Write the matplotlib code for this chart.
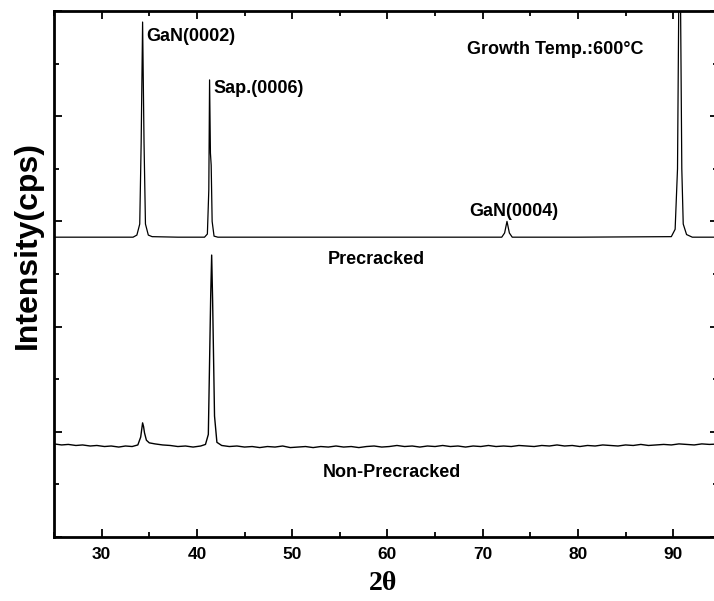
import matplotlib
matplotlib.use("Agg")
import matplotlib.pyplot as plt
from matplotlib.ticker import MultipleLocator, NullFormatter

# ---- data ----
two_theta_pre = [25.0, 28.0, 31.0, 33.3, 33.7, 34.0, 34.15, 34.3, 34.45, 34.6, 34.9, 35.3,
                 38.0, 40.8, 41.1, 41.25, 41.33, 41.42, 41.5, 41.6, 41.8, 42.2,
                 50.0, 60.0, 68.0, 72.0, 72.3, 72.55, 72.8, 73.1,
                 80.0, 89.8, 90.2, 90.45, 90.6, 90.75, 90.9, 91.05, 91.4, 92.0, 95.0]
intensity_pre = [5.70, 5.70, 5.70, 5.70, 5.74, 5.95, 7.5, 9.79, 7.5, 5.95, 5.74, 5.71,
                 5.70, 5.70, 5.76, 6.6, 8.69, 7.3, 7.07, 6.0, 5.72, 5.70,
                 5.70, 5.70, 5.70, 5.70, 5.78, 6.00, 5.78, 5.70,
                 5.70, 5.71, 5.85, 7.0, 10.6, 10.6, 7.0, 5.95, 5.75, 5.70, 5.70]

two_theta_non = [25.0, 25.8, 26.5, 27.3, 28.0, 28.8, 29.5, 30.3, 31.0, 31.8, 32.5, 33.2,
                 33.8, 34.1, 34.3, 34.4, 34.5, 34.7, 35.0, 35.6, 36.4, 37.2, 38.0,
                 38.8, 39.6, 40.4, 40.9, 41.2, 41.45, 41.55, 41.65, 41.85, 42.1, 42.6,
                 43.4, 44.2, 45.0, 45.8, 46.6, 47.4, 48.2, 49.0, 49.8, 50.6, 51.4,
                 52.2, 53.0, 53.8, 54.6, 55.4, 56.2, 57.0, 57.8, 58.6, 59.4, 60.2,
                 61.0, 61.8, 62.6, 63.4, 64.2, 65.0, 65.8, 66.6, 67.4, 68.2, 69.0,
                 69.8, 70.6, 71.4, 72.2, 73.0, 73.8, 74.6, 75.4, 76.2, 77.0, 77.8,
                 78.6, 79.4, 80.2, 81.0, 81.8, 82.6, 83.4, 84.2, 85.0, 85.8, 86.6,
                 87.4, 88.2, 89.0, 89.8, 90.6, 91.4, 92.2, 93.0, 93.8, 95.0]
intensity_non = [1.77, 1.75, 1.76, 1.74, 1.75, 1.73, 1.74, 1.72, 1.73, 1.71, 1.73, 1.72,
                 1.75, 1.90, 2.17, 2.10, 1.98, 1.84, 1.79, 1.77, 1.75, 1.74, 1.72,
                 1.73, 1.71, 1.73, 1.76, 1.95, 4.6, 5.36, 4.5, 2.3, 1.80, 1.74,
                 1.72, 1.73, 1.71, 1.72, 1.70, 1.72, 1.71, 1.73, 1.70, 1.71, 1.72,
                 1.70, 1.72, 1.71, 1.73, 1.71, 1.72, 1.70, 1.72, 1.73, 1.71, 1.72,
                 1.74, 1.72, 1.73, 1.71, 1.73, 1.72, 1.74, 1.72, 1.73, 1.71, 1.73,
                 1.72, 1.74, 1.72, 1.73, 1.72, 1.74, 1.73, 1.72, 1.74, 1.73, 1.75,
                 1.73, 1.74, 1.72, 1.74, 1.73, 1.75, 1.74, 1.73, 1.75, 1.74, 1.76,
                 1.74, 1.75, 1.76, 1.75, 1.77, 1.76, 1.75, 1.77, 1.76, 1.77]

x_ticks = [30, 40, 50, 60, 70, 80, 90]
x_tick_labels = ["30", "40", "50", "60", "70", "80", "90"]

labels = ["GaN(0002)", "Sap.(0006)", "Growth Temp.:600°C", "GaN(0004)",
          "Precracked", "Non-Precracked"]
label_x = [34.72, 41.75, 68.4, 68.6, 53.7, 53.2]
label_y = [9.51, 8.52, 9.26, 6.18, 5.27, 1.22]

# ---- figure ----
plt.rcParams['font.family'] = ['Liberation Sans', 'DejaVu Sans']
fig = plt.figure(figsize=(7.14, 6.01), dpi=100)
ax = fig.add_axes([54 / 714, 64 / 601, 664 / 714, 526 / 601])

ax.plot(two_theta_pre, intensity_pre, color='black', lw=0.9)
ax.plot(two_theta_non, intensity_non, color='black', lw=1.0)

ax.set_xlim(25, 94.7)
ax.set_ylim(0, 10)
ax.set_xticks(x_ticks)
ax.set_xticklabels(x_tick_labels, fontsize=12.5, fontweight='bold')
ax.xaxis.set_minor_locator(MultipleLocator(5))
ax.yaxis.set_major_locator(MultipleLocator(2))
ax.yaxis.set_minor_locator(MultipleLocator(1))
ax.yaxis.set_major_formatter(NullFormatter())
ax.tick_params(which='both', direction='in', top=True, right=True, width=1.3)
ax.tick_params(which='major', length=6, pad=7)
ax.tick_params(which='minor', length=3.5)
for s in ax.spines.values():
    s.set_linewidth(2.0)

for t, xx, yy in zip(labels, label_x, label_y):
    ax.text(xx, yy, t, ha='left', va='center', fontsize=13, fontweight='bold')

fig.text(28 / 714, 1 - 245 / 601, "Intensity(cps)", rotation=90, ha='center',
         va='center', fontsize=23, fontweight='bold')
fig.text(383 / 714, 1 - 583 / 601, "2θ", ha='center', va='center',
         fontsize=20, fontweight='bold', family=['Liberation Serif', 'DejaVu Serif'])

fig.savefig("out.png", dpi=100)
